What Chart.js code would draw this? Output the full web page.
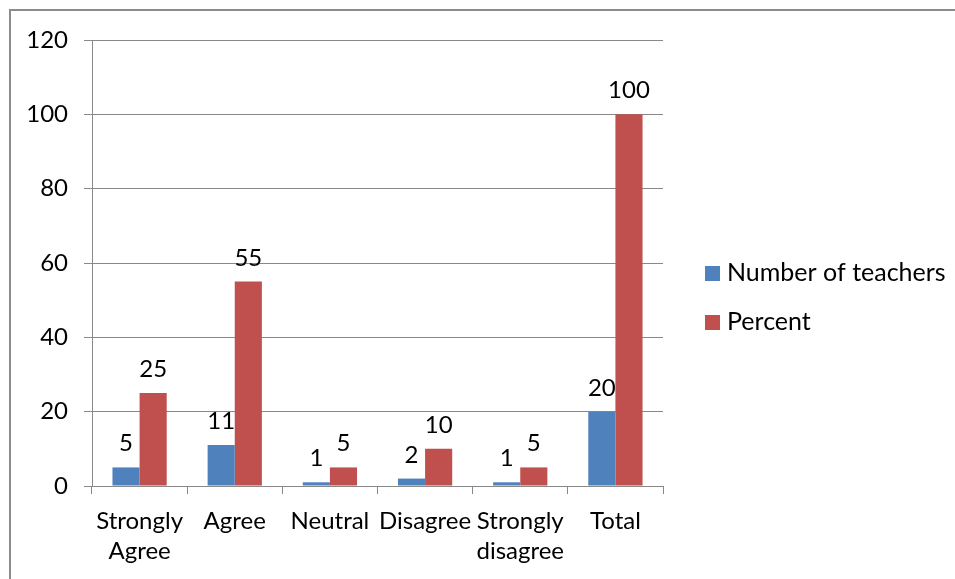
<!DOCTYPE html>
<html>
<head>
<meta charset="utf-8">
<script src="https://cdn.jsdelivr.net/npm/chart.js@4"></script>
<style>
  html, body { margin: 0; padding: 0; background: #fff; }
  #wrap { width: 955px; height: 579px; position: relative; }
</style>
</head>
<body>
<div id="wrap"><canvas id="chart" width="955" height="579"></canvas></div>
<script>
// chart data
const categories = [["Strongly", "Agree"], "Agree", "Neutral", "Disagree", ["Strongly", "disagree"], "Total"];
const teachers = [5, 11, 1, 2, 1, 20];
const percent = [25, 55, 5, 10, 5, 100];
const seriesNames = ["Number of teachers", "Percent"];
const yTicks = [0, 20, 40, 60, 80, 100, 120];

const FONT = "Lato, 'Liberation Sans', sans-serif";
const gridColor = "#898989";

// outer frame (only top and left edges are visible in the picture)
const framePlugin = {
  id: "frame",
  beforeDraw(chart) {
    const ctx = chart.ctx;
    ctx.save();
    ctx.strokeStyle = "#8c8c8c";
    ctx.lineWidth = 2;
    ctx.beginPath();
    ctx.moveTo(10, 579);
    ctx.lineTo(10, 10);
    ctx.lineTo(955, 10);
    ctx.stroke();
    ctx.restore();
  }
};

// value labels above each bar
const valueLabels = {
  id: "valueLabels",
  afterDatasetsDraw(chart) {
    const ctx = chart.ctx;
    ctx.save();
    ctx.font = "24px " + FONT;
    ctx.fillStyle = "#000";
    ctx.textAlign = "center";
    ctx.textBaseline = "alphabetic";
    chart.data.datasets.forEach(function (ds, i) {
      chart.getDatasetMeta(i).data.forEach(function (bar, j) {
        ctx.fillText(String(ds.data[j]), bar.x, bar.y - 16);
      });
    });
    ctx.restore();
  }
};

// legend on the right
const sideLegend = {
  id: "sideLegend",
  afterDraw(chart) {
    const ctx = chart.ctx;
    ctx.save();
    ctx.font = "25px " + FONT;
    ctx.textBaseline = "middle";
    ctx.textAlign = "left";
    chart.data.datasets.forEach(function (ds, i) {
      const cy = 273 + i * 49;
      ctx.fillStyle = ds.backgroundColor;
      ctx.fillRect(705, cy - 7, 15, 15);
      ctx.fillStyle = "#000";
      ctx.fillText(ds.label, 727, cy);
    });
    ctx.restore();
  }
};

new Chart(document.getElementById("chart"), {
  type: "bar",
  data: {
    labels: categories,
    datasets: [
      { label: seriesNames[0], data: teachers, backgroundColor: "#4F81BD" },
      { label: seriesNames[1], data: percent, backgroundColor: "#C0504D" }
    ]
  },
  options: {
    responsive: false,
    animation: false,
    layout: { padding: { top: 40, right: 292, bottom: 0, left: 0 } },
    datasets: { bar: { categoryPercentage: 0.57, barPercentage: 1.0 } },
    plugins: { legend: { display: false }, tooltip: { enabled: false } },
    scales: {
      x: {
        offset: true,
        grid: { display: true, drawOnChartArea: false, color: gridColor, tickLength: 8, offset: true },
        border: { color: gridColor, width: 1 },
        ticks: {
          color: "#000",
          font: { family: FONT, size: 24, lineHeight: 1.25 },
          padding: 12,
          autoSkip: false,
          maxRotation: 0,
          minRotation: 0
        },
        afterFit(scale) { scale.height = 93; }
      },
      y: {
        min: 0,
        max: 120,
        afterBuildTicks(scale) { scale.ticks = yTicks.map(v => ({ value: v })); },
        grid: { color: gridColor, tickLength: 8 },
        border: { color: gridColor, width: 1 },
        ticks: {
          color: "#000",
          font: { family: FONT, size: 24 },
          padding: 16
        },
        afterFit(scale) { scale.width = 92; }
      }
    }
  },
  plugins: [framePlugin, valueLabels, sideLegend]
});
</script>
</body>
</html>
